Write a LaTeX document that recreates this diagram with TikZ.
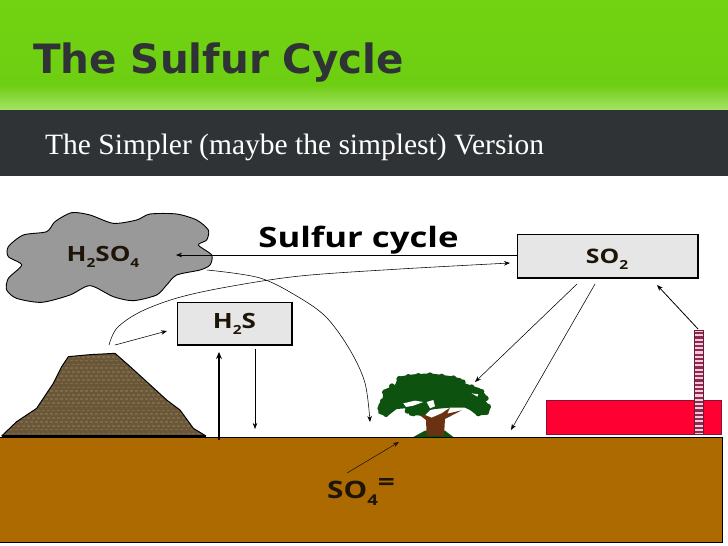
\documentclass[tikz,border=0pt]{standalone}
\usepackage{fontspec}
\setmainfont{Liberation Serif}
\newfontfamily\headfont{DejaVu Sans}
\newfontfamily\labelfont{Open Sans}
\usetikzlibrary{arrows.meta}
\definecolor{darkband}{HTML}{2F3336}
\definecolor{greentop}{HTML}{72D312}
\definecolor{greenmid}{HTML}{6ECE12}
\definecolor{greenlow}{HTML}{A6E369}
\definecolor{soil}{HTML}{AD6A00}
\definecolor{cloudgray}{HTML}{999999}
\definecolor{boxgray}{HTML}{E6E6E6}
\definecolor{rock}{HTML}{6A5638}
\definecolor{rocklight}{HTML}{7F6A48}
\definecolor{leaf}{HTML}{0E5210}
\definecolor{bark}{HTML}{6B3212}
\definecolor{factory}{HTML}{FF0033}
\definecolor{factoryedge}{HTML}{8E1030}
\definecolor{stackdark}{HTML}{8E2A50}
\definecolor{stacklight}{HTML}{FAC8D8}
\definecolor{inktext}{HTML}{1E1408}
\newcommand{\chemtext}[2]{{\fontsize{#1}{#1}\selectfont\scalebox{1.24}[1]{#2}}}
\newcommand{\lowsub}[1]{\raisebox{-0.32em}{\fontsize{12.5}{12.5}\selectfont #1}}
\tikzset{
  conn/.style={draw=black,line width=0.55pt,-{Stealth[length=6pt,width=4.5pt]}},
  boldconn/.style={draw=black,line width=1.5pt,-{Stealth[length=7pt,width=6pt]}},
  chembox/.style={draw=black,line width=0.8pt,fill=boxgray,inner sep=0pt},
  chem/.style={font=\labelfont\bfseries,text=inktext,inner sep=0pt},
}
\begin{document}
\begin{tikzpicture}[x=1pt,y=-1pt]
\useasboundingbox (0,0) rectangle (728,546);
% header
\fill[white] (0,0) rectangle (728,546);
\shade[top color=greentop,bottom color=greenmid] (0,0) rectangle (728,85);
\shade[top color=greenmid,bottom color=greenlow] (0,85) rectangle (728,110.5);
\fill[darkband] (0,110) rectangle (728,176);
\node[anchor=base west,inner sep=0pt,text=darkband,font=\headfont\bfseries\fontsize{40.4}{40.4}\selectfont] (title) at (33,73) {The Sulfur Cycle};
\node[anchor=base west,inner sep=0pt,text=white,font=\fontsize{29.5}{29.5}\selectfont] (subtitle) at (45,154) {The Simpler (maybe the simplest) Version};
% ground
\fill[soil] (0,437) rectangle (722,542);
\draw[black,line width=0.8pt] (0,437) -- (722,437) -- (722,542) -- (0,542);
% factory
\draw[factoryedge,fill=factory,line width=0.8pt] (546.5,400.5) rectangle (721,434);
\fill[stacklight] (694,330) rectangle (703,434);
\foreach \s in {0,...,23}{\fill[stackdark] (694.5,{332+4.3*\s}) rectangle (702.5,{334.2+4.3*\s});}
\draw[stackdark!70!black,line width=0.5pt] (694,330) rectangle (703,434);
% volcano
\begin{scope}[shift={(0,340)},xscale=1/3,yscale=1/3]
  \path[fill=rock] (5,288)--(50,245)--(110,205)--(130,175)--(160,130)--(185,80)--(205,50)--(270,44)--(345,40)--(385,75)--(440,125)--(500,180)--(540,210)--(580,265)--(618,288)--cycle;
  \begin{scope}
    \clip (5,288)--(50,245)--(110,205)--(130,175)--(160,130)--(185,80)--(205,50)--(270,44)--(345,40)--(385,75)--(440,125)--(500,180)--(540,210)--(580,265)--(618,288)--cycle;
    \foreach \r in {0,...,22}{\foreach \c in {0,...,42}{
      \fill[rocklight] ({\c*15+mod(\r,2)*7.5},{36+\r*11.5}) rectangle ++(8,5);}}
  \end{scope}
  \draw[black,line width=1pt] (5,288)--(50,245)--(110,205)--(130,175)--(160,130)--(185,80)--(205,50)--(270,44)--(345,40)--(385,75)--(440,125)--(500,180)--(540,210)--(580,265)--(618,288);
  \draw[black,line width=1.2pt] (5,288)--(618,288);
\end{scope}
% tree
\begin{scope}[shift={(370,365)},xscale=1/3,yscale=1/3]
  \fill[leaf] (130,216)--(150,205)--(165,197)--(225,197)--(250,216)--cycle;
  \fill[bark] (170,212)--(168,165)--(146,148)--(165,150)--(185,158)--(215,145)--(240,128)--(232,146)--(275,136)--(225,162)--(222,212)--cycle;
  \fill[leaf] (85,35)--(130,28)--(180,25)--(240,33)--(272,40)--(285,55)--(330,70)--(352,95)--(348,110)--(362,125)--(355,148)--(322,152)--(300,135)--(285,128)--(240,128)--(195,132)--(180,135)--(165,150)--(120,152)--(105,130)--(80,132)--(50,155)--(25,145)--(25,120)--(38,100)--(40,75)--(75,60)--cycle;
  \foreach \cx/\cy/\cr in {88/42/9, 115/36/9, 145/33/9, 180/31/9, 215/35/9, 250/40/9, 278/52/9, 305/66/8, 335/80/8, 348/100/8, 354/125/9, 348/142/8, 325/146/8, 130/146/8, 112/138/8, 150/145/7, 48/148/8, 30/130/8, 38/108/8, 44/82/8, 66/64/9}{
    \fill[leaf] (\cx,\cy) circle [radius=\cr];}
  \fill[white] (100,115)--(135,107)--(160,111)--(130,122)--(108,126)--cycle;
  \fill[white] (170,111)--(190,105)--(195,124)--(180,130)--cycle;
  \fill[white] (305,85)--(325,88)--(322,95)--cycle;
\end{scope}
% cloud
\begin{scope}[shift={(0,190)},xscale=1/3,yscale=1/3]
  \draw[black,line width=0.9pt,fill=cloudgray] plot[smooth cycle,tension=0.45] coordinates {(215,68)(270,75)(340,100)(410,90)(450,72)(530,72)(590,90)(625,120)(620,150)(595,165)(635,195)(630,225)(600,240)(530,255)(500,285)(470,315)(400,332)(340,320)(270,287)(210,315)(125,337)(50,325)(20,300)(25,265)(65,225)(25,200)(25,170)(70,135)(140,125)(165,95)};
\end{scope}
% boxes
\node[chembox,minimum width=115pt,minimum height=43pt] (hts) at (234.5,323.5) {};
\draw[black,line width=2pt] (hts.north east) -- (hts.south east) -- (hts.south west);
\node[chem] (htslabel) at (234.5,324) {\chemtext{21}{H\lowsub{2}S}};
\node[chembox,minimum width=181pt,minimum height=44pt] (so) at (607.5,256) {};
\draw[black,line width=2pt] (so.north east) -- (so.south east) -- (so.south west);
\node[chem] (solabel) at (607,259) {\chemtext{20}{SO\lowsub{2}}};
\node[chem] (cloudlabel) at (103,257) {\chemtext{21}{H\lowsub{2}SO\lowsub{4}}};
\node[chem,anchor=base,text=black] (cyclelabel) at (358.5,247) {\chemtext{28}{Sulfur cycle}};
\node[chem,anchor=base west] (soil) at (327,498) {\chemtext{24}{SO\raisebox{-0.3em}{\fontsize{15}{15}\selectfont 4}\raisebox{0.3em}{=}}};
% connector ends
\coordinate (cloudin) at (176,255);
\coordinate (ventA) at (109,345);
\coordinate (ventB) at (115,345);
\coordinate (soin) at (510,263);
\coordinate (cloudout) at (207,270);
\coordinate (soilin) at (370,422);
\coordinate (htsin) at (167,331);
\coordinate (soilA) at (219,440);
\coordinate (htsB) at (219,352);
\coordinate (htsC) at (255,349);
\coordinate (soilB) at (255,429);
\coordinate (soA) at (577,284);
\coordinate (treein) at (475,382);
\coordinate (soB) at (595,284);
\coordinate (soilC) at (511,430);
\coordinate (stacktop) at (698,329);
\coordinate (soC) at (657,285);
\coordinate (sulfate) at (347,473);
\coordinate (roots) at (399,442);
% connectors
\draw[conn] (so.west |- 0,255) -- (cloudin);
\draw[conn] plot[smooth,tension=0.55] coordinates {(ventA) (117,328) (140,312) (177,298) (227,287) (300,276) (400,269) (soin)};
\draw[conn] plot[smooth,tension=0.55] coordinates {(cloudout) (260,278) (300,298) (327,318) (350,350) (365,383) (soilin)};
\draw[conn] (ventB) -- (htsin);
\draw[boldconn] (soilA) -- (htsB);
\draw[conn] (htsC) -- (soilB);
\draw[conn] (soA) -- (treein);
\draw[conn] (soB) -- (soilC);
\draw[conn,line width=0.8pt] (stacktop) -- (soC);
\draw[conn,draw=inktext] (sulfate) -- (roots);
\end{tikzpicture}
\end{document}
